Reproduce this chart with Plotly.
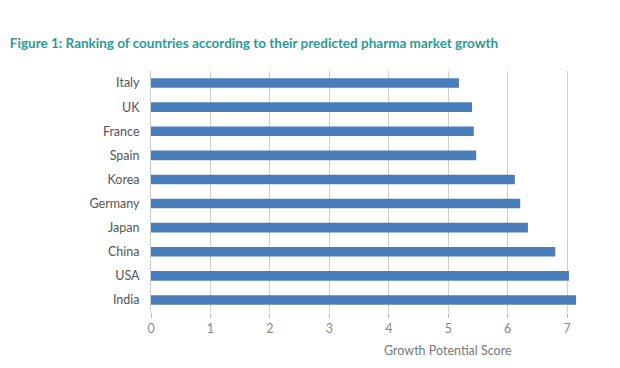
import plotly.graph_objects as go

countries = ["Italy", "UK", "France", "Spain", "Korea", "Germany", "Japan", "China", "USA", "India"]
scores = [5.18, 5.40, 5.43, 5.47, 6.12, 6.21, 6.34, 6.80, 7.03, 7.15]
tick_vals = [0, 1, 2, 3, 4, 5, 6, 7]

fig = go.Figure(go.Bar(
    x=scores, y=countries, orientation="h",
    marker=dict(color="#4a7ebb", line=dict(width=0)),
    width=0.4,
))

fig.update_layout(
    width=620, height=368,
    margin=dict(l=143, r=43, t=63, b=64),
    paper_bgcolor="white", plot_bgcolor="white",
    showlegend=False,
    font=dict(family="Lato, sans-serif", color="#666"),
    title=dict(text="<b>Figure 1: Ranking of countries according to their predicted pharma market growth</b>",
               x=0.003, xanchor="left", y=0.905, yanchor="middle",
               font=dict(family="Lato, sans-serif", size=13.5, color="#2a9a98")),
)
fig.update_xaxes(range=[0, 7.3], tickvals=tick_vals, showgrid=True, gridcolor="#cfcfcf", gridwidth=1.2,
                 zeroline=False, showline=False, ticks="outside", ticklen=5, tickcolor="#bbbbbb",
                 tickfont=dict(size=12.5, color="#888"), fixedrange=True)
fig.update_yaxes(categoryorder="array", categoryarray=countries, autorange="reversed",
                 showline=True, linecolor="#cccccc", linewidth=1, showgrid=False,
                 ticks="", ticklabelstandoff=8,
                 tickfont=dict(size=12.5, color="#555"))
fig.add_annotation(text="Growth Potential Score", x=5, xref="x", y=-0.12, yref="paper",
                   xanchor="center", yanchor="top", showarrow=False,
                   font=dict(size=12.5, color="#777", family="Lato, sans-serif"))

fig.write_html("out.html")
